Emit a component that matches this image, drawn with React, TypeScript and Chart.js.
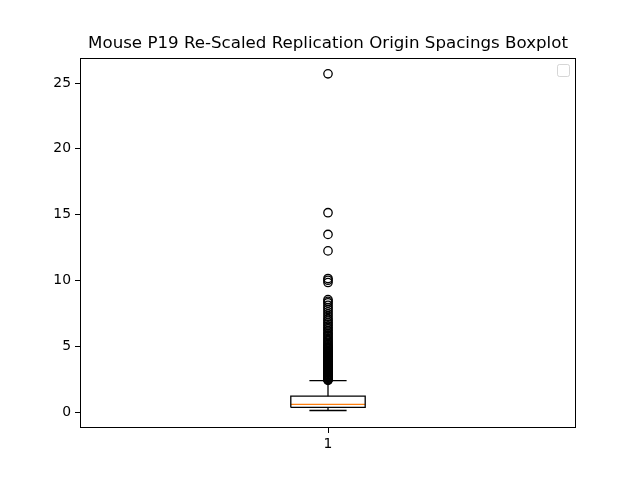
import React, { useEffect, useRef } from "react";
import { Chart, registerables } from "chart.js";

Chart.register(...registerables);

const TITLE = "Mouse P19 Re-Scaled Replication Origin Spacings Boxplot";
const CATEGORY_TICKS = [1];
const Y_TICKS = [0, 5, 10, 15, 20, 25];

// box statistics
const Q1 = 0.36;
const MEDIAN = 0.6;
const Q3 = 1.22;
const WHISKER_LO = 0.13;
const WHISKER_HI = 2.4;

const OUTLIERS = [
  25.7, 15.15, 13.5, 12.25, 10.15, 10.02, 9.85,
  8.55, 8.42, 8.3, 8.12, 7.95, 7.8, 7.62, 7.45, 7.28, 7.1, 6.97, 6.82, 6.7,
  6.56, 6.43, 6.31, 6.2, 6.08, 5.95, 5.86, 5.74, 5.63, 5.52, 5.43, 5.31,
  5.22, 5.13, 5.04, 4.96, 4.9, 4.83, 4.77, 4.7, 4.64, 4.58, 4.51, 4.46,
  4.4, 4.33, 4.27, 4.22, 4.16, 4.1, 4.05, 3.99, 3.94, 3.88, 3.83, 3.77,
  3.72, 3.67, 3.62, 3.56, 3.51, 3.47, 3.42, 3.37, 3.32, 3.27, 3.22, 3.18,
  3.13, 3.08, 3.04, 2.99, 2.95, 2.9, 2.86, 2.82, 2.77, 2.73, 2.69, 2.65,
  2.61, 2.57, 2.53, 2.49, 2.46, 2.42,
];

const BOX_WIDTH = 0.15;
const CAP_WIDTH = 0.075;

export default function App() {
  const ref = useRef<HTMLCanvasElement | null>(null);

  useEffect(() => {
    document.body.style.margin = "0";
    const canvas = ref.current;
    if (!canvas) return;
    const c = CATEGORY_TICKS[0];
    const bl = c - BOX_WIDTH / 2;
    const br = c + BOX_WIDTH / 2;
    const cl = c - CAP_WIDTH / 2;
    const cr = c + CAP_WIDTH / 2;
    const line = (data: { x: number; y: number }[], color = "#000000") => ({
      type: "line" as const,
      data,
      borderColor: color,
      borderWidth: 1.3,
      pointRadius: 0,
      fill: false,
      tension: 0,
    });

    const frame = {
      id: "frame",
      afterDatasetsDraw(chart: any) {
        const { ctx, chartArea: a } = chart;
        ctx.save();
        ctx.strokeStyle = "#000";
        ctx.lineWidth = 1;
        ctx.strokeRect(Math.round(a.left) + 0.5, Math.round(a.top) + 0.5, Math.round(a.right - a.left) - 1, Math.round(a.bottom - a.top) - 1);
        // empty legend box
        ctx.strokeStyle = "rgba(204,204,204,0.8)";
        ctx.fillStyle = "rgba(255,255,255,0.8)";
        ctx.beginPath();
        const x = a.right - 18.5, y = a.top + 6.5, w = 12, h = 12;
        if ((ctx as any).roundRect) (ctx as any).roundRect(x, y, w, h, 2);
        else ctx.rect(x, y, w, h);
        ctx.fill();
        ctx.stroke();
        ctx.restore();
      },
    };

    const chart = new Chart(canvas, {
      type: "scatter",
      data: {
        datasets: [
          line([
            { x: bl, y: Q1 },
            { x: br, y: Q1 },
            { x: br, y: Q3 },
            { x: bl, y: Q3 },
            { x: bl, y: Q1 },
          ]),
          line([{ x: c, y: Q1 }, { x: c, y: WHISKER_LO }]),
          line([{ x: c, y: Q3 }, { x: c, y: WHISKER_HI }]),
          line([{ x: cl, y: WHISKER_LO }, { x: cr, y: WHISKER_LO }]),
          line([{ x: cl, y: WHISKER_HI }, { x: cr, y: WHISKER_HI }]),
          line([{ x: bl, y: MEDIAN }, { x: br, y: MEDIAN }], "#ff7f0e"),
          {
            type: "scatter" as const,
            data: OUTLIERS.map((v) => ({ x: c, y: v })),
            pointStyle: "circle",
            pointRadius: 4.2,
            pointBorderWidth: 1.3,
            pointBorderColor: "#000000",
            pointBackgroundColor: "rgba(0,0,0,0)",
          },
        ] as any,
      },
      options: {
        animation: false,
        responsive: false,
        devicePixelRatio: 1,
        layout: { padding: { left: 0, right: 64, top: 0, bottom: 0 } },
        plugins: {
          legend: { display: false },
          tooltip: { enabled: false },
          title: {
            display: true,
            fullSize: false,
            text: TITLE,
            color: "#000",
            font: { family: "DejaVu Sans", size: 16.67, weight: "normal" },
            padding: { top: 34, bottom: 4 },
          },
        },
        scales: {
          x: {
            type: "linear",
            min: 0.5,
            max: 1.5,
            afterBuildTicks: (s: any) => {
              s.ticks = CATEGORY_TICKS.map((v) => ({ value: v }));
            },
            afterFit: (s: any) => {
              s.height = 52;
            },
            grid: { drawOnChartArea: false, tickLength: 5, tickColor: "#000", color: "#000" },
            border: { display: false },
            ticks: { color: "#000", padding: 3, font: { family: "DejaVu Sans", size: 13.9 }, callback: (v: any) => String(v) },
          },
          y: {
            type: "linear",
            min: -1.2,
            max: 26.9,
            afterBuildTicks: (s: any) => {
              s.ticks = Y_TICKS.map((v) => ({ value: v }));
            },
            afterFit: (s: any) => {
              s.width = 80;
            },
            grid: { drawOnChartArea: false, tickLength: 5, tickColor: "#000", color: "#000" },
            border: { display: false },
            ticks: { color: "#000", padding: 4, font: { family: "DejaVu Sans", size: 13.9 }, callback: (v: any) => String(v) },
          },
        },
      } as any,
      plugins: [frame],
    });
    return () => chart.destroy();
  }, []);

  return (
    <div style={{ width: 640, height: 480 }}>
      <canvas ref={ref} width={640} height={480} style={{ display: "block" }} />
    </div>
  );
}
